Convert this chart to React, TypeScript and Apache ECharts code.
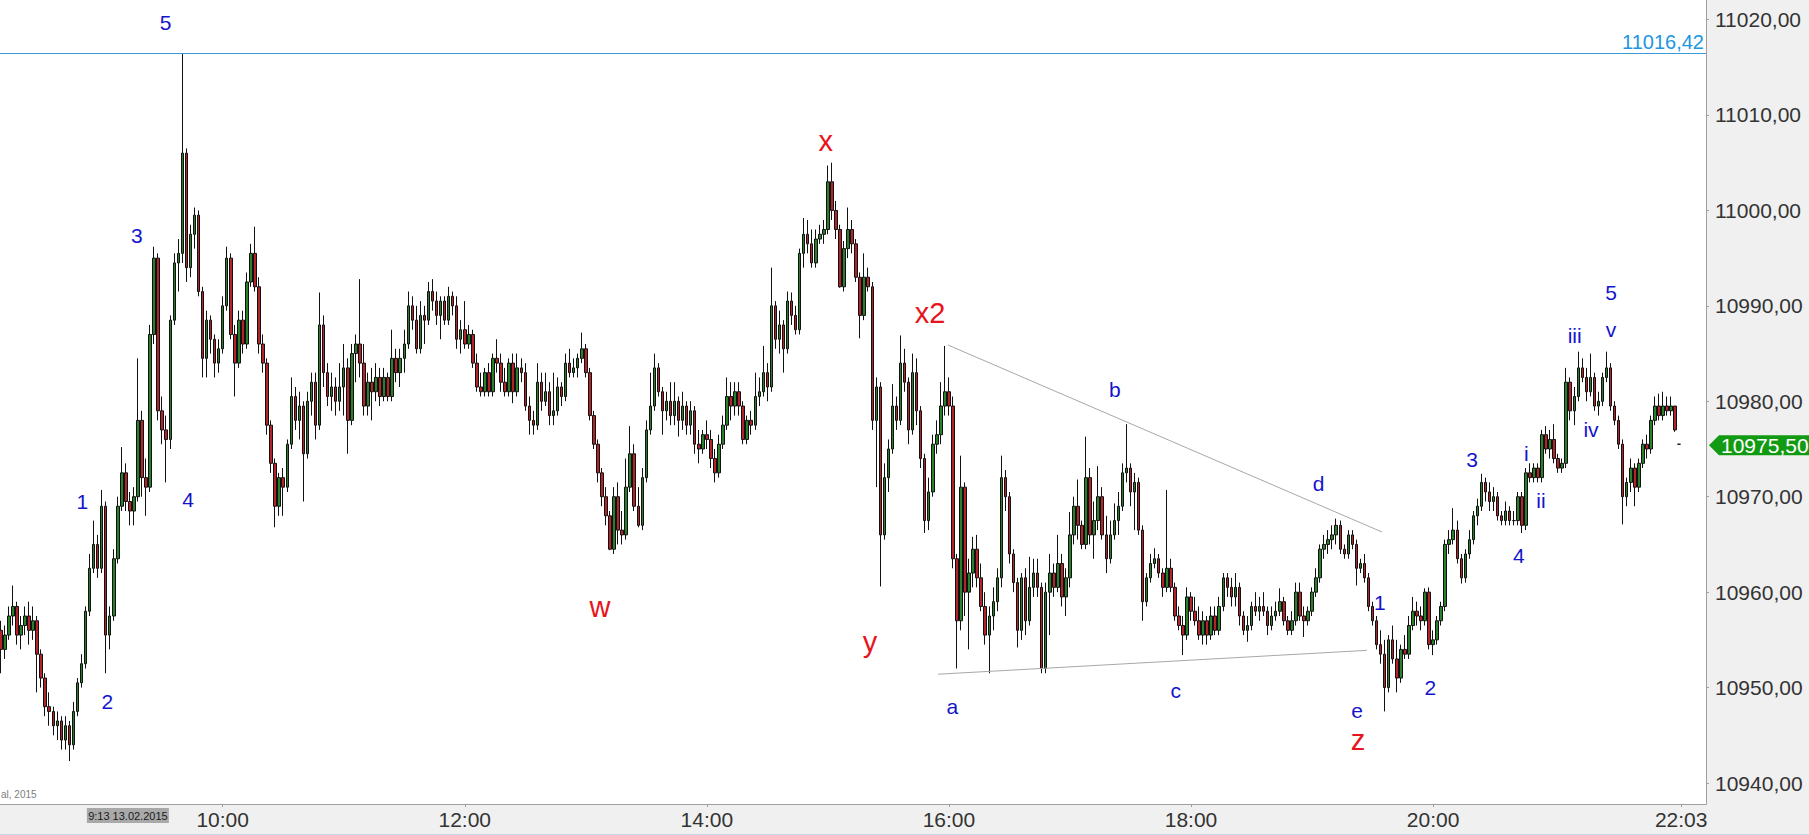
import React, { useEffect, useRef } from "react";
import * as echarts from "echarts";

// 2-minute bars, first bar at 08:10 (minute 490 of the day)
const START_MINUTE = 490;
const BAR_MINUTES = 2;

const barOpen = [
  10956, 10954, 10955.5, 10957.5, 10958.5, 10955.5, 10956.5, 10957.5, 10956, 10957,
  10953.5, 10951, 10948, 10947.5, 10946, 10946.5, 10944.5, 10946, 10944, 10947.5,
  10950.5, 10952.5, 10958, 10962.5, 10965, 10962.5, 10969, 10955.5, 10957.5, 10963.5,
  10969, 10972.5, 10969.5, 10968.5, 10970, 10978, 10972, 10971, 10987, 10995,
  10979, 10977, 10976, 10988.5, 10994.5, 10995.5, 11006, 10994, 10997.5, 10999.5,
  10991.5, 10984.5, 10988.5, 10986.5, 10984, 10985.5, 10990, 10995, 10987, 10984,
  10988.5, 10986, 10992.5, 10995.5, 10992, 10986, 10984, 10977.5, 10973.5, 10969,
  10972, 10971, 10975.5, 10980.5, 10978, 10979.5, 10974.5, 10980, 10982, 10977.5,
  10988, 10983, 10980.5, 10981.5, 10980, 10981.5, 10983.5, 10978, 10985, 10986,
  10984, 10979.5, 10982, 10981, 10982.5, 10980.5, 10982.5, 10980.5, 10984.5, 10983,
  10984.5, 10986, 10990, 10988.5, 10985.5, 10989, 10988.5, 10991.5, 10990.5, 10989,
  10990.5, 10988.5, 10991, 10990, 10986.5, 10987.5, 10986, 10987, 10984, 10981.5,
  10981, 10983, 10981, 10984.5, 10984, 10982, 10981, 10984, 10981, 10983.5,
  10983, 10979.5, 10978, 10977.5, 10982, 10980, 10981, 10978.5, 10979, 10981.5,
  10980.5, 10984, 10983, 10983.5, 10984.5, 10985.5, 10983, 10978.5, 10975.5, 10972.5,
  10970, 10968, 10964.5, 10970, 10966.5, 10966, 10971, 10974.5, 10969, 10967,
  10972, 10977, 10979.5, 10983.5, 10981, 10979, 10980, 10978.5, 10980, 10978,
  10979.5, 10977.5, 10979, 10975.5, 10975, 10976.5, 10976, 10974, 10972.5, 10975.5,
  10977.5, 10980.5, 10979.5, 10981, 10979.5, 10976, 10978, 10977.5, 10980.5, 10981,
  10983, 10981.5, 10990, 10986.5, 10988, 10985.5, 10990.5, 10989, 10987.5, 10995.5,
  10997.5, 10996.5, 10994.5, 10997, 10997.5, 10998, 11003, 11000, 10998, 10992,
  10996, 10998, 10996.5, 10993, 10989, 10993, 10992, 10978, 10981.5, 10966,
  10972, 10975, 10979.5, 10978, 10984, 10982, 10977, 10983, 10979, 10974,
  10967.5, 10970.5, 10975.5, 10976.5, 10979.5, 10981, 10979.5, 10963.5, 10957, 10971,
  10960, 10962, 10964.5, 10961.5, 10958.5, 10955.5, 10957.5, 10959, 10961.5, 10972,
  10970, 10964, 10961, 10956, 10961.5, 10957, 10960.5, 10962, 10960.5, 10952,
  10960, 10962, 10960.5, 10963, 10959.5, 10961.5, 10966, 10969, 10967, 10965,
  10972, 10966, 10967.5, 10970, 10966, 10963.5, 10966, 10967.5, 10969, 10972.5,
  10973, 10970.5, 10971.5, 10966.5, 10959, 10961.5, 10963, 10963.5, 10962, 10960.5,
  10962.5, 10960.5, 10957.5, 10956.5, 10955.5, 10959.5, 10958, 10957, 10955.5, 10957,
  10955.5, 10957.5, 10956, 10958.5, 10961.5, 10960.5, 10959.5, 10960.5, 10957.5, 10956,
  10956.5, 10958.5, 10958, 10958.5, 10958, 10956.5, 10957.5, 10958, 10959, 10957,
  10956, 10957, 10960, 10957.5, 10957, 10958, 10960, 10961.5, 10964.5, 10965,
  10965.5, 10966, 10967, 10964.5, 10964, 10966, 10965, 10962.5, 10963, 10961.5,
  10958.5, 10957, 10954.5, 10953.5, 10950, 10955, 10953, 10951, 10954, 10953.5,
  10956.5, 10958, 10957.5, 10957, 10960, 10954.5, 10955, 10957, 10958.5, 10965,
  10965.5, 10966.5, 10963.5, 10961.5, 10964, 10965.5, 10968, 10969, 10971.5, 10970.5,
  10969.5, 10970, 10968, 10967.5, 10968.5, 10967.5, 10967.5, 10970, 10967, 10972.5,
  10972, 10973, 10972, 10976.5, 10975, 10976, 10974, 10973, 10973.5, 10982,
  10979, 10980.5, 10983.5, 10982.5, 10981, 10982.5, 10979.5, 10980, 10982.5, 10983.5,
  10979.5, 10978, 10975.5, 10970, 10971.5, 10973, 10971, 10973.5, 10975.5, 10975,
  10978, 10979.5, 10978.5, 10979.5, 10979, 10979.5, 10975.5,
];

const barClose = [
  10954, 10955.5, 10957.5, 10958.5, 10955.5, 10956.5, 10957.5, 10956, 10957, 10953.5,
  10951, 10948, 10947.5, 10946, 10946.5, 10944.5, 10946, 10944, 10947.5, 10950.5,
  10952.5, 10958, 10962.5, 10965, 10962.5, 10969, 10955.5, 10957.5, 10963.5, 10969,
  10972.5, 10969.5, 10968.5, 10970, 10978, 10972, 10971, 10987, 10995, 10979,
  10977, 10976, 10988.5, 10994.5, 10995.5, 11006, 10994, 10997.5, 10999.5, 10991.5,
  10984.5, 10988.5, 10986.5, 10984, 10985.5, 10990, 10995, 10987, 10984, 10988.5,
  10986, 10992.5, 10995.5, 10992, 10986, 10984, 10977.5, 10973.5, 10969, 10972,
  10971, 10975.5, 10980.5, 10978, 10979.5, 10974.5, 10980, 10982, 10977.5, 10988,
  10983, 10980.5, 10981.5, 10980, 10981.5, 10983.5, 10978, 10985, 10986, 10984,
  10979.5, 10982, 10981, 10982.5, 10980.5, 10982.5, 10980.5, 10984.5, 10983, 10984.5,
  10986, 10990, 10988.5, 10985.5, 10989, 10988.5, 10991.5, 10990.5, 10989, 10990.5,
  10988.5, 10991, 10990, 10986.5, 10987.5, 10986, 10987, 10984, 10981.5, 10981,
  10983, 10981, 10984.5, 10984, 10982, 10981, 10984, 10981, 10983.5, 10983,
  10979.5, 10978, 10977.5, 10982, 10980, 10981, 10978.5, 10979, 10981.5, 10980.5,
  10984, 10983, 10983.5, 10984.5, 10985.5, 10983, 10978.5, 10975.5, 10972.5, 10970,
  10968, 10964.5, 10970, 10966.5, 10966, 10971, 10974.5, 10969, 10967, 10972,
  10977, 10979.5, 10983.5, 10981, 10979, 10980, 10978.5, 10980, 10978, 10979.5,
  10977.5, 10979, 10975.5, 10975, 10976.5, 10976, 10974, 10972.5, 10975.5, 10977.5,
  10980.5, 10979.5, 10981, 10979.5, 10976, 10978, 10977.5, 10980.5, 10981, 10983,
  10981.5, 10990, 10986.5, 10988, 10985.5, 10990.5, 10989, 10987.5, 10995.5, 10997.5,
  10996.5, 10994.5, 10997, 10997.5, 10998, 11003, 11000, 10998, 10992, 10996,
  10998, 10996.5, 10993, 10989, 10993, 10992, 10978, 10981.5, 10966, 10972,
  10975, 10979.5, 10978, 10984, 10982, 10977, 10983, 10979, 10974, 10967.5,
  10970.5, 10975.5, 10976.5, 10979.5, 10981, 10979.5, 10963.5, 10957, 10971, 10960,
  10962, 10964.5, 10961.5, 10958.5, 10955.5, 10957.5, 10959, 10961.5, 10972, 10970,
  10964, 10961, 10956, 10961.5, 10957, 10960.5, 10962, 10960.5, 10952, 10960,
  10962, 10960.5, 10963, 10959.5, 10961.5, 10966, 10969, 10967, 10965, 10972,
  10966, 10967.5, 10970, 10966, 10963.5, 10966, 10967.5, 10969, 10972.5, 10973,
  10970.5, 10971.5, 10966.5, 10959, 10961.5, 10963, 10963.5, 10962, 10960.5, 10962.5,
  10960.5, 10957.5, 10956.5, 10955.5, 10959.5, 10958, 10957, 10955.5, 10957, 10955.5,
  10957.5, 10956, 10958.5, 10961.5, 10960.5, 10959.5, 10960.5, 10957.5, 10956, 10956.5,
  10958.5, 10958, 10958.5, 10958, 10956.5, 10957.5, 10958, 10959, 10957, 10956,
  10957, 10960, 10957.5, 10957, 10958, 10960, 10961.5, 10964.5, 10965, 10965.5,
  10966, 10967, 10964.5, 10964, 10966, 10965, 10962.5, 10963, 10961.5, 10958.5,
  10957, 10954.5, 10953.5, 10950, 10955, 10953, 10951, 10954, 10953.5, 10956.5,
  10958, 10957.5, 10957, 10960, 10954.5, 10955, 10957, 10958.5, 10965, 10965.5,
  10966.5, 10963.5, 10961.5, 10964, 10965.5, 10968, 10969, 10971.5, 10970.5, 10969.5,
  10970, 10968, 10967.5, 10968.5, 10967.5, 10967.5, 10970, 10967, 10972.5, 10972,
  10973, 10972, 10976.5, 10975, 10976, 10974, 10973, 10973.5, 10982, 10979,
  10980.5, 10983.5, 10982.5, 10981, 10982.5, 10979.5, 10980, 10982.5, 10983.5, 10979.5,
  10978, 10975.5, 10970, 10971.5, 10973, 10971, 10973.5, 10975.5, 10975, 10978,
  10979.5, 10978.5, 10979.5, 10979, 10979.5, 10977, 10975.5,
];

const barLow = [
  10951.5, 10953, 10955, 10956.5, 10954.5, 10954, 10955.5, 10954.5, 10955, 10949.5,
  10950, 10947, 10946, 10945, 10944.5, 10943.5, 10943.5, 10942.3, 10943.5, 10947,
  10950, 10952, 10957.5, 10962, 10961.5, 10962, 10951.5, 10954, 10957, 10963,
  10968.5, 10968.5, 10967, 10967, 10969.5, 10970, 10968, 10970.5, 10986, 10978,
  10975.5, 10971.5, 10975, 10988, 10991.5, 10994.5, 10992.5, 10993, 10996, 10991,
  10982.5, 10982.5, 10985, 10982.5, 10983, 10985, 10989.5, 10986.5, 10980.5, 10983.5,
  10985, 10985.5, 10992, 10991.5, 10985, 10983, 10976.5, 10972.5, 10966.8, 10968,
  10968, 10970.5, 10975, 10977, 10976, 10969.5, 10974, 10978.5, 10976, 10977,
  10981.5, 10979.5, 10979, 10978.5, 10979, 10978.5, 10974.5, 10977.5, 10982, 10982.5,
  10978.5, 10978.5, 10978, 10980, 10979.5, 10980, 10980, 10980, 10982, 10981.5,
  10983, 10985.5, 10987.5, 10985, 10985, 10986, 10988, 10989.5, 10988, 10986.5,
  10988, 10988, 10989, 10985.5, 10985, 10985.5, 10985.5, 10983.5, 10981, 10980.5,
  10980.5, 10980.5, 10980.5, 10983, 10981, 10980.5, 10980.5, 10979.8, 10980.5, 10982,
  10979, 10976.5, 10976.5, 10977, 10979, 10979.5, 10977.5, 10977.5, 10978.5, 10979.5,
  10980, 10982.5, 10982.5, 10982.5, 10984, 10982.5, 10978, 10975, 10971.5, 10969,
  10967, 10964.4, 10964, 10965, 10965, 10965.5, 10970.5, 10968.5, 10966.8, 10966.5,
  10971.5, 10976.5, 10979, 10980.5, 10976.5, 10978, 10977.5, 10977.5, 10976.3, 10977,
  10976.5, 10976.5, 10974.5, 10973.5, 10974.5, 10975, 10973, 10971.5, 10972, 10975,
  10977, 10978, 10978.5, 10978.5, 10975.5, 10975.5, 10976.5, 10977, 10979.5, 10980.5,
  10980, 10981, 10985.5, 10985, 10983, 10985, 10988, 10987, 10987, 10994,
  10995.5, 10994, 10994, 10996.5, 10996.5, 10997.5, 10999, 10997, 10991.9, 10991.5,
  10995, 10995.5, 10992.5, 10986.6, 10988.5, 10991.5, 10977, 10971, 10960.6, 10965.5,
  10970.5, 10974.5, 10977, 10977.5, 10981, 10975.5, 10976.5, 10977.5, 10973, 10966.2,
  10966.5, 10970, 10974.5, 10975.5, 10978.5, 10978.5, 10962.5, 10952, 10956, 10957.5,
  10954, 10960.5, 10960.5, 10958, 10954.5, 10951.5, 10956, 10958, 10960.5, 10968.5,
  10963, 10960, 10954.2, 10955, 10955.5, 10956.5, 10959.5, 10959.5, 10951.5, 10951.5,
  10955.5, 10959.5, 10960, 10958.5, 10957.5, 10960.5, 10965, 10965.5, 10964.5, 10964.5,
  10965, 10963.5, 10966.5, 10965.5, 10962, 10963, 10965.5, 10966, 10968.5, 10971.5,
  10969, 10966.5, 10966, 10957, 10958.5, 10961, 10962.5, 10961.5, 10959.5, 10960,
  10960, 10957, 10956, 10953.4, 10955, 10957, 10956.5, 10955, 10954.5, 10954.5,
  10955, 10955.5, 10955.5, 10958, 10959.5, 10958.5, 10958.5, 10956.5, 10955.5, 10954.8,
  10956, 10957.5, 10957, 10957.5, 10955.5, 10956, 10957, 10957.5, 10956.5, 10955.5,
  10955.5, 10956.5, 10957, 10955.3, 10956.5, 10957.5, 10959.5, 10961, 10963.5, 10964,
  10964.5, 10965, 10964, 10963.5, 10963.5, 10964.5, 10960.7, 10962, 10961, 10958,
  10956.5, 10954, 10952.5, 10947.5, 10949.5, 10952.5, 10949.5, 10950.5, 10953, 10953,
  10956, 10956.5, 10956, 10956.5, 10954, 10953.4, 10954.5, 10956.5, 10958, 10964,
  10965, 10963, 10960.9, 10961, 10963.5, 10965, 10967, 10968.5, 10969.5, 10968.5,
  10968.5, 10967.5, 10967, 10967, 10967, 10967, 10967, 10966.2, 10966.5, 10971.5,
  10971.5, 10971.5, 10971.5, 10974.5, 10974, 10973.5, 10972.5, 10972.5, 10973, 10978,
  10977.5, 10980, 10982, 10980, 10980.5, 10979, 10978.5, 10979.5, 10982, 10979,
  10977.5, 10975, 10967.1, 10969, 10970.5, 10969, 10970.5, 10973, 10974, 10974.5,
  10977.5, 10978, 10978, 10978.5, 10978.5, 10976.8, 10975.5,
];

const barHigh = [
  10957, 10956.5, 10958.5, 10960.7, 10959, 10957.5, 10958.5, 10959, 10958.5, 10957.5,
  10954, 10951.5, 10949.5, 10948, 10947.5, 10947, 10947, 10946.5, 10948.5, 10951,
  10953.5, 10958.5, 10964, 10967.5, 10966, 10970.7, 10969.5, 10958.5, 10964.5, 10970,
  10975.2, 10973.5, 10970.5, 10971, 10984.5, 10979, 10974, 10988, 10996.2, 10995.5,
  10980.5, 10978.5, 10989, 10995.5, 10997, 11016.42, 11006.5, 10998.5, 11000.3, 11000,
  10992, 10989.5, 10989, 10987, 10986.5, 10991, 10996.2, 10995.5, 10988, 10989.5,
  10989.5, 10993.5, 10996.5, 10998.3, 10993, 10987, 10984.5, 10978, 10974, 10972.5,
  10973, 10976, 10982.5, 10981.5, 10981, 10980, 10981, 10983, 10983, 10991.4,
  10989, 10984, 10983, 10982.5, 10984, 10986, 10984.5, 10986, 10987, 10992.8,
  10986, 10983, 10983.5, 10984, 10983.5, 10983.5, 10983, 10987.5, 10985.5, 10985.5,
  10987.5, 10991.5, 10991, 10990, 10990.5, 10990, 10992.5, 10992.8, 10991.5, 10991,
  10991, 10992, 10991.5, 10991, 10988.5, 10990.5, 10988, 10987.5, 10985, 10983,
  10983.5, 10984, 10985, 10986.5, 10985, 10983.5, 10984.5, 10985, 10985, 10984.5,
  10984, 10980.5, 10979, 10984, 10983, 10983, 10982, 10983, 10982.5, 10982,
  10985, 10985.5, 10984.5, 10985, 10987.2, 10986, 10983.5, 10979, 10976, 10973,
  10971, 10968.5, 10971, 10971.5, 10968.5, 10974, 10977.4, 10975.5, 10971, 10973,
  10978, 10983, 10985, 10984, 10981.5, 10981, 10982, 10982, 10980.5, 10981,
  10980, 10980, 10979.5, 10977, 10977, 10978, 10977, 10975, 10976.5, 10978.5,
  10982.5, 10982, 10982, 10982, 10980, 10978.5, 10979, 10983, 10982.5, 10985.8,
  10984, 10994, 10990.5, 10989.5, 10988.5, 10991.5, 10991.4, 10990, 10996, 10999.2,
  10999, 10998, 10998, 10998.5, 10999, 11004.7, 11005, 11001, 10998.5, 10996.8,
  11000.3, 10999, 10997, 10993.5, 10995.5, 10994, 10992.5, 10982.5, 10982, 10973.5,
  10976, 10981.8, 10980.5, 10986.9, 10985.5, 10982.5, 10985, 10984.5, 10979.5, 10974.5,
  10972, 10976.5, 10978, 10982, 10985.8, 10982.5, 10980.5, 10964, 10974.3, 10971.5,
  10963.5, 10965.8, 10966, 10963, 10960, 10958.5, 10960.5, 10962.5, 10974.3, 10972.8,
  10970.5, 10964.5, 10961.5, 10962, 10962.5, 10963.7, 10963.5, 10963.5, 10961, 10961,
  10964, 10963, 10966, 10964, 10962.5, 10968.4, 10970, 10971.8, 10967.5, 10976.3,
  10973, 10969.5, 10973.2, 10971, 10968, 10967.5, 10969.3, 10970.5, 10973.5, 10977.6,
  10973.5, 10972.5, 10972, 10967, 10962, 10964, 10964.6, 10964, 10962.5, 10970.7,
  10963.5, 10961, 10958.5, 10957.5, 10960.5, 10960, 10959.5, 10958.5, 10958, 10957.5,
  10958.5, 10958.5, 10959.5, 10962, 10962, 10961.5, 10962, 10961, 10958, 10957.5,
  10959, 10960, 10959.5, 10960, 10958.5, 10958.5, 10959, 10960.4, 10959.5, 10957.5,
  10958, 10961, 10961, 10958.5, 10958.5, 10960.5, 10962.5, 10965, 10966, 10966.5,
  10967, 10967.7, 10967.5, 10965, 10966.5, 10966.5, 10965.5, 10963.5, 10964, 10962,
  10959, 10957.5, 10956, 10955, 10955.5, 10956.5, 10955, 10954.5, 10955.5, 10957.5,
  10959.5, 10959, 10958.5, 10960.4, 10960.5, 10956, 10957.5, 10959, 10965.5, 10966.5,
  10968.8, 10967.5, 10964, 10964.5, 10966.5, 10968.5, 10969.8, 10972.4, 10972, 10971.5,
  10971, 10970.5, 10968.5, 10969.5, 10969, 10968.5, 10970.5, 10970.5, 10973, 10973.5,
  10973.5, 10973.5, 10977, 10977.4, 10977, 10977.6, 10974.5, 10974, 10983.5, 10982.5,
  10981.5, 10985.2, 10984.5, 10983.5, 10985, 10983, 10981, 10983, 10985.2, 10984,
  10980, 10978.5, 10976, 10972, 10974, 10973.5, 10974, 10976, 10976.5, 10978.5,
  10980.5, 10980.8, 10981, 10980.5, 10980.5, 10979.5, 10975.5,
];

// axis ticks (minutes of day / price levels)
const xTickMinutes = [600, 720, 840, 960, 1080, 1200, 1323];
const yTickValues = [10940, 10950, 10960, 10970, 10980, 10990, 11000, 11010, 11020];

// reference levels
const highLevel = 11016.42;
const lastPrice = 10975.5;
const markerMinute = 553; // 9:13 marker
const markerText = "9:13 13.02.2015";
const copyrightText = "al, 2015";

// triangle trend lines [minute, price]
const triangleUpper = [[959.5, 10985.9], [1174.7, 10966.3]];
const triangleLower = [[954.6, 10951.4], [1167.2, 10953.9]];

// wave count labels: [text, minute, price]
const minorWaveLabels: [string, number, number][] = [
  ["5", 571.7, 11019.7], ["3", 557.4, 10997.4], ["1", 530.4, 10969.5], ["4", 582.9, 10969.7], ["2", 542.8, 10948.5],
  ["a", 961.7, 10948.0], ["b", 1042.3, 10981.2], ["c", 1072.4, 10949.7], ["d", 1143.3, 10971.4], ["e", 1162.4, 10947.6],
  ["1", 1173.6, 10958.9], ["2", 1198.6, 10950.0], ["3", 1219.4, 10973.9], ["4", 1242.5, 10963.8],
  ["i", 1246.2, 10974.5], ["ii", 1253.5, 10969.6], ["iii", 1270.2, 10986.9], ["iv", 1278.3, 10977.0],
  ["5", 1288.2, 10991.4], ["v", 1288.2, 10987.5],
];
const majorWaveLabels: [string, number, number][] = [
  ["x", 898.9, 11007.3], ["x2", 950.6, 10989.3], ["w", 787.0, 10958.4], ["y", 920.9, 10954.8], ["z", 1162.8, 10944.5],
];

const FONT = "'Liberation Sans', Arial, sans-serif";
const fmtPrice = (v: number) => v.toFixed(2).replace(".", ",");
const fmtTime = (m: number) => {
  const h = Math.floor(m / 60);
  const mm = Math.round(m - h * 60);
  return `${h}:${String(mm).padStart(2, "0")}`;
};

export default function App() {
  const ref = useRef<HTMLDivElement>(null);
  useEffect(() => {
    document.body.style.margin = "0";
    const chart = echarts.init(ref.current!, undefined, { renderer: "svg" });
    const data = barOpen.map((o, i) => [START_MINUTE + i * BAR_MINUTES, o, barClose[i], barLow[i], barHigh[i]]);
    const mkLabel = (w: [string, number, number], color: string, size: number) => ({
      name: w[0],
      coord: [w[1], w[2]],
      label: { show: true, position: "inside", formatter: w[0], color, fontSize: size, fontFamily: FONT },
    });
    chart.setOption({
      animation: false,
      backgroundColor: "#f0f0f0",
      grid: { left: 0, right: 103, top: 0, bottom: 31, show: true, backgroundColor: "#ffffff", borderWidth: 0 },
      xAxis: {
        type: "value",
        min: 489.6,
        max: 1335.3,
        axisLine: { show: true, lineStyle: { color: "#a0a0a0" } },
        axisTick: { show: true, length: 3, customValues: xTickMinutes, lineStyle: { color: "#a0a0a0" } },
        axisLabel: {
          customValues: xTickMinutes,
          formatter: (v: number) => fmtTime(v),
          fontSize: 21,
          fontFamily: FONT,
          color: "#333333",
          margin: 5,
        },
        splitLine: { show: false },
      },
      yAxis: {
        type: "value",
        position: "right",
        min: 10937.8,
        max: 11022.05,
        axisLine: { show: true, lineStyle: { color: "#a0a0a0" } },
        axisTick: { show: true, length: 3, customValues: yTickValues, lineStyle: { color: "#a0a0a0" } },
        axisLabel: {
          customValues: yTickValues,
          formatter: (v: number) => fmtPrice(v),
          fontSize: 21,
          fontFamily: FONT,
          color: "#333333",
          margin: 9,
        },
        splitLine: { show: false },
      },
      series: [
        {
          type: "candlestick",
          data,
          encode: { x: 0, y: [1, 2, 3, 4] },
          barWidth: 3,
          itemStyle: {
            color: "#2a802a",
            color0: "#b3232a",
            borderColor: "#111111",
            borderColor0: "#111111",
            borderWidth: 1,
          },
          markLine: {
            silent: true,
            symbol: ["none", "none"],
            animation: false,
            data: [
              {
                yAxis: highLevel,
                lineStyle: { color: "#3c9ad6", width: 1, type: "solid" },
                label: {
                  show: true,
                  position: "insideEndTop",
                  formatter: (p: any) => fmtPrice(p.value),
                  color: "#2196e0",
                  fontSize: 20,
                  fontFamily: FONT,
                  distance: 2,
                },
              },
              [
                { coord: triangleUpper[0], lineStyle: { color: "#a8a8a8", width: 1, type: "solid" }, label: { show: false } },
                { coord: triangleUpper[1] },
              ],
              [
                { coord: triangleLower[0], lineStyle: { color: "#a8a8a8", width: 1, type: "solid" }, label: { show: false } },
                { coord: triangleLower[1] },
              ],
            ],
          },
          markPoint: {
            symbol: "circle",
            symbolSize: 1,
            itemStyle: { color: "rgba(0,0,0,0)" },
            animation: false,
            data: [
              ...minorWaveLabels.map((w) => mkLabel(w, "#1414cc", 21)),
              ...majorWaveLabels.map((w) => mkLabel(w, "#e8141c", 29)),
            ],
          },
        },
      ],
    });

    const yLast = chart.convertToPixel({ yAxisIndex: 0 }, lastPrice) as number;
    const xMarker = chart.convertToPixel({ xAxisIndex: 0 }, markerMinute) as number;
    const axisX = chart.convertToPixel({ xAxisIndex: 0 }, 1335.3) as number;
    const plotBottom = chart.convertToPixel({ yAxisIndex: 0 }, 10937.8) as number;
    const yc = yLast + 1;
    chart.setOption({
      graphic: [
        {
          type: "polygon",
          shape: {
            points: [
              [axisX + 3, yc],
              [axisX + 13, yc - 10],
              [1809, yc - 10],
              [1809, yc + 10],
              [axisX + 13, yc + 10],
            ],
          },
          style: { fill: "#139a13" },
          z: 100,
        },
        {
          type: "text",
          x: axisX + 15,
          y: yc,
          style: { text: fmtPrice(lastPrice), fill: "#ffffff", fontSize: 21, fontFamily: FONT, verticalAlign: "middle", align: "left" },
          z: 101,
        },
        {
          type: "rect",
          shape: { x: xMarker - 41, y: plotBottom + 4, width: 82, height: 15 },
          style: { fill: "#a9a9a9" },
          z: 100,
        },
        {
          type: "text",
          x: xMarker,
          y: plotBottom + 11.5,
          style: { text: markerText, fill: "#1a1a1a", fontSize: 11, fontFamily: FONT, verticalAlign: "middle", align: "center" },
          z: 101,
        },
        {
          type: "text",
          x: 1,
          y: plotBottom - 10,
          style: { text: copyrightText, fill: "#808080", fontSize: 10, fontFamily: FONT, verticalAlign: "middle", align: "left" },
          z: 101,
        },
        {
          type: "line",
          shape: { x1: 0, y1: 834.5, x2: 1809, y2: 834.5 },
          style: { stroke: "#c9d6e3", lineWidth: 1 },
          z: 100,
        },
      ],
    });
    return () => chart.dispose();
  }, []);
  return <div ref={ref} style={{ width: 1809, height: 835 }} />;
}
